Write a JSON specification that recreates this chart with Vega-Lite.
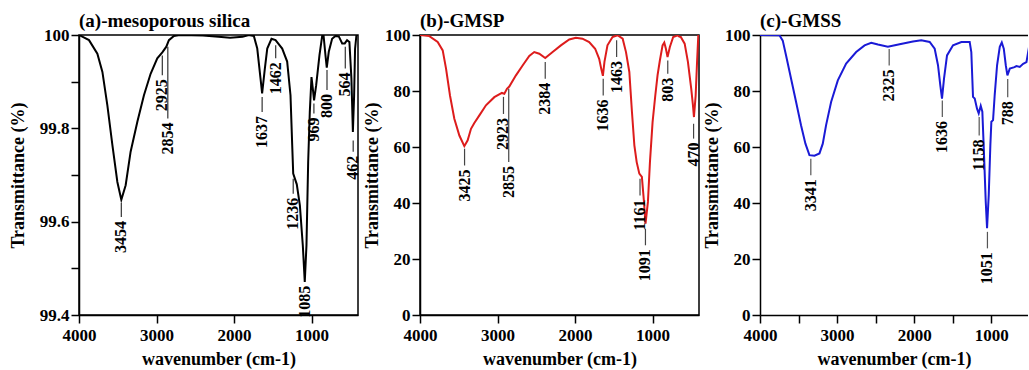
{
  "$schema": "https://vega.github.io/schema/vega-lite/v6.json",
  "padding": {"top": 10, "left": 8, "right": 0, "bottom": 0},
  "spacing": 0,
  "datasets": {
    "curveA": [
      {"wn": 4000, "t": 100}, {"wn": 3871, "t": 99.989}, {"wn": 3763, "t": 99.96}, {"wn": 3698, "t": 99.921},
      {"wn": 3634, "t": 99.849}, {"wn": 3569, "t": 99.764}, {"wn": 3505, "t": 99.685}, {"wn": 3454, "t": 99.647},
      {"wn": 3398, "t": 99.678}, {"wn": 3334, "t": 99.75}, {"wn": 3247, "t": 99.814}, {"wn": 3162, "t": 99.871},
      {"wn": 3076, "t": 99.917}, {"wn": 2990, "t": 99.95}, {"wn": 2925, "t": 99.963}, {"wn": 2873, "t": 99.975},
      {"wn": 2840, "t": 99.989}, {"wn": 2775, "t": 99.998}, {"wn": 2700, "t": 100}, {"wn": 2400, "t": 99.999},
      {"wn": 2200, "t": 99.996}, {"wn": 2050, "t": 99.994}, {"wn": 1890, "t": 99.996}, {"wn": 1808, "t": 100},
      {"wn": 1744, "t": 99.998}, {"wn": 1700, "t": 99.971}, {"wn": 1658, "t": 99.907}, {"wn": 1637, "t": 99.875},
      {"wn": 1602, "t": 99.928}, {"wn": 1571, "t": 99.971}, {"wn": 1516, "t": 99.992}, {"wn": 1464, "t": 99.989},
      {"wn": 1378, "t": 99.971}, {"wn": 1314, "t": 99.943}, {"wn": 1271, "t": 99.871}, {"wn": 1249, "t": 99.764},
      {"wn": 1236, "t": 99.703}, {"wn": 1190, "t": 99.68}, {"wn": 1150, "t": 99.635}, {"wn": 1112, "t": 99.549},
      {"wn": 1087, "t": 99.471}, {"wn": 1065, "t": 99.549}, {"wn": 1043, "t": 99.728}, {"wn": 1022, "t": 99.835},
      {"wn": 1000, "t": 99.91}, {"wn": 983, "t": 99.885}, {"wn": 967, "t": 99.86}, {"wn": 940, "t": 99.892},
      {"wn": 897, "t": 99.957}, {"wn": 862, "t": 99.998}, {"wn": 845, "t": 100}, {"wn": 820, "t": 99.957},
      {"wn": 803, "t": 99.93}, {"wn": 777, "t": 99.964}, {"wn": 734, "t": 99.992}, {"wn": 691, "t": 99.998},
      {"wn": 648, "t": 99.997}, {"wn": 604, "t": 99.982}, {"wn": 571, "t": 99.982}, {"wn": 541, "t": 99.989},
      {"wn": 511, "t": 99.985}, {"wn": 485, "t": 99.907}, {"wn": 466, "t": 99.792}, {"wn": 450, "t": 99.871},
      {"wn": 438, "t": 99.97}, {"wn": 420, "t": 100}, {"wn": 400, "t": 100}
    ],
    "annA": [
      {"wn": 3454, "label": "3454", "y1": 99.64, "y2": 99.61},
      {"wn": 2925, "label": "2925", "y1": 99.956, "y2": 99.914},
      {"wn": 2854, "label": "2854", "y1": 99.975, "y2": 99.821},
      {"wn": 1637, "label": "1637", "y1": 99.867, "y2": 99.835},
      {"wn": 1462, "label": "1462", "y1": 99.978, "y2": 99.95},
      {"wn": 1236, "label": "1236", "y1": 99.692, "y2": 99.66},
      {"wn": 1085, "label": "1085", "y1": 99.471, "y2": 99.471},
      {"wn": 969, "label": "969", "y1": 99.853, "y2": 99.832},
      {"wn": 800, "label": "800", "y1": 99.925, "y2": 99.882},
      {"wn": 564, "label": "564", "y1": 99.975, "y2": 99.928},
      {"wn": 462, "label": "462", "y1": 99.774, "y2": 99.75}
    ],
    "curveB": [
      {"wn": 4000, "t": 100}, {"wn": 3879, "t": 99.6}, {"wn": 3772, "t": 97.5}, {"wn": 3707, "t": 94.5},
      {"wn": 3664, "t": 88}, {"wn": 3613, "t": 78.4}, {"wn": 3557, "t": 70.1}, {"wn": 3492, "t": 64.1},
      {"wn": 3428, "t": 60.3}, {"wn": 3385, "t": 62.4}, {"wn": 3342, "t": 66.5}, {"wn": 3299, "t": 68.6},
      {"wn": 3234, "t": 71.3}, {"wn": 3149, "t": 74.9}, {"wn": 3041, "t": 77.8}, {"wn": 2943, "t": 79.3},
      {"wn": 2912, "t": 79.0}, {"wn": 2878, "t": 80.8}, {"wn": 2848, "t": 81.6}, {"wn": 2762, "t": 85.6},
      {"wn": 2676, "t": 89.1}, {"wn": 2590, "t": 92.5}, {"wn": 2526, "t": 93.9}, {"wn": 2461, "t": 93.3},
      {"wn": 2384, "t": 91.8}, {"wn": 2289, "t": 93.9}, {"wn": 2182, "t": 96.3}, {"wn": 2074, "t": 98.4},
      {"wn": 1989, "t": 99.0}, {"wn": 1904, "t": 98.7}, {"wn": 1817, "t": 97.5}, {"wn": 1740, "t": 95.1},
      {"wn": 1688, "t": 91.5}, {"wn": 1662, "t": 88}, {"wn": 1640, "t": 85.4}, {"wn": 1620, "t": 90.4},
      {"wn": 1581, "t": 96.3}, {"wn": 1516, "t": 99.3}, {"wn": 1451, "t": 99.9}, {"wn": 1385, "t": 98.7},
      {"wn": 1342, "t": 93.9}, {"wn": 1299, "t": 86.8}, {"wn": 1265, "t": 72.5}, {"wn": 1234, "t": 60.6},
      {"wn": 1204, "t": 54.6}, {"wn": 1170, "t": 50.5}, {"wn": 1137, "t": 49.3}, {"wn": 1110, "t": 40.4},
      {"wn": 1090, "t": 32.6}, {"wn": 1059, "t": 40.4}, {"wn": 1033, "t": 54.6}, {"wn": 999, "t": 68.9},
      {"wn": 964, "t": 78.4}, {"wn": 935, "t": 85.6}, {"wn": 905, "t": 90.9}, {"wn": 870, "t": 96.3},
      {"wn": 848, "t": 97.3}, {"wn": 827, "t": 95.1}, {"wn": 806, "t": 92.1}, {"wn": 776, "t": 95.7},
      {"wn": 733, "t": 99.3}, {"wn": 700, "t": 99.6}, {"wn": 678, "t": 99.9}, {"wn": 655, "t": 99.4},
      {"wn": 635, "t": 99.3}, {"wn": 585, "t": 96.9}, {"wn": 543, "t": 90.4}, {"wn": 500, "t": 80.8},
      {"wn": 478, "t": 74.9}, {"wn": 465, "t": 70.7}, {"wn": 443, "t": 78.4}, {"wn": 425, "t": 90.4},
      {"wn": 409, "t": 99.9}, {"wn": 400, "t": 100}
    ],
    "annB": [
      {"wn": 3425, "label": "3425", "y1": 59.4, "y2": 53.4},
      {"wn": 2923, "label": "2923", "y1": 77.9, "y2": 71.8},
      {"wn": 2855, "label": "2855", "y1": 80.8, "y2": 54.6},
      {"wn": 2384, "label": "2384", "y1": 90.4, "y2": 84.4},
      {"wn": 1636, "label": "1636", "y1": 84.4, "y2": 78.4},
      {"wn": 1463, "label": "1463", "y1": 98.1, "y2": 92.1},
      {"wn": 1161, "label": "1161", "y1": 48.7, "y2": 42.7},
      {"wn": 1091, "label": "1091", "y1": 30.8, "y2": 24.9},
      {"wn": 803, "label": "803", "y1": 90.9, "y2": 86.2},
      {"wn": 470, "label": "470", "y1": 68.3, "y2": 63.0}
    ],
    "curveC": [
      {"wn": 4000, "t": 100}, {"wn": 3748, "t": 99.9}, {"wn": 3705, "t": 98.0}, {"wn": 3662, "t": 92.7},
      {"wn": 3597, "t": 84.4}, {"wn": 3532, "t": 76.1}, {"wn": 3468, "t": 67.8}, {"wn": 3411, "t": 61.2},
      {"wn": 3359, "t": 57.1}, {"wn": 3294, "t": 56.9}, {"wn": 3229, "t": 57.7}, {"wn": 3186, "t": 61.2},
      {"wn": 3143, "t": 67.8}, {"wn": 3078, "t": 76.1}, {"wn": 2991, "t": 83.8}, {"wn": 2883, "t": 89.8},
      {"wn": 2753, "t": 93.9}, {"wn": 2644, "t": 96.3}, {"wn": 2558, "t": 97.2}, {"wn": 2471, "t": 96.6},
      {"wn": 2342, "t": 95.8}, {"wn": 2190, "t": 96.7}, {"wn": 2017, "t": 97.7}, {"wn": 1909, "t": 98.1},
      {"wn": 1800, "t": 97.5}, {"wn": 1735, "t": 95.1}, {"wn": 1692, "t": 89.2}, {"wn": 1662, "t": 82.0},
      {"wn": 1640, "t": 77.3}, {"wn": 1614, "t": 84.4}, {"wn": 1575, "t": 92.7}, {"wn": 1497, "t": 96.3},
      {"wn": 1389, "t": 97.5}, {"wn": 1281, "t": 97.5}, {"wn": 1260, "t": 93.9}, {"wn": 1238, "t": 77.9},
      {"wn": 1216, "t": 77.3}, {"wn": 1186, "t": 73.7}, {"wn": 1164, "t": 72.0}, {"wn": 1138, "t": 74.7},
      {"wn": 1117, "t": 72.6}, {"wn": 1095, "t": 57.1}, {"wn": 1073, "t": 40.5}, {"wn": 1056, "t": 31.0},
      {"wn": 1034, "t": 42.9}, {"wn": 1013, "t": 60.7}, {"wn": 1000, "t": 69.0}, {"wn": 978, "t": 69.6},
      {"wn": 957, "t": 78.5}, {"wn": 926, "t": 89.2}, {"wn": 891, "t": 95.8}, {"wn": 865, "t": 97.3},
      {"wn": 839, "t": 95.1}, {"wn": 813, "t": 89.2}, {"wn": 792, "t": 85.6}, {"wn": 761, "t": 88.0},
      {"wn": 700, "t": 88.5}, {"wn": 675, "t": 88.9}, {"wn": 632, "t": 88.6}, {"wn": 588, "t": 89.7},
      {"wn": 545, "t": 90.3}, {"wn": 523, "t": 93.9}, {"wn": 501, "t": 97.5}, {"wn": 480, "t": 100}
    ],
    "annC": [
      {"wn": 3341, "label": "3341", "y1": 55.8, "y2": 49.9},
      {"wn": 2325, "label": "2325", "y1": 95.0, "y2": 89.1},
      {"wn": 1636, "label": "1636", "y1": 76.6, "y2": 70.7},
      {"wn": 1158, "label": "1158", "y1": 70.7, "y2": 64.1},
      {"wn": 1051, "label": "1051", "y1": 29.7, "y2": 23.8},
      {"wn": 788, "label": "788", "y1": 84.3, "y2": 77.8}
    ]
  },
  "hconcat": [
    {
      "width": 279, "height": 280,
      "title": {"text": "(a)-mesoporous silica"},
      "layer": [
        {
          "data": {"name": "curveA"},
          "mark": {"type": "line", "color": "#000000", "strokeWidth": 2, "clip": true},
          "encoding": {
            "x": {"field": "wn", "type": "quantitative", "scale": {"domain": [4000, 400], "nice": false, "zero": false},
                  "title": "wavenumber (cm-1)",
                  "axis": {"values": [4000, 3500, 3000, 2500, 2000, 1500, 1000, 500], "format": "d", "labelExpr": "datum.value % 1000 === 0 ? datum.label : ''"}},
            "y": {"field": "t", "type": "quantitative", "scale": {"domain": [99.4, 100], "nice": false, "zero": false},
                  "title": "Transmittance (%)",
                  "axis": {"values": [99.4, 99.5, 99.6, 99.7, 99.8, 99.9, 100], "format": ".1~f", "labelExpr": "round(datum.value * 10) % 2 === 0 ? datum.label : ''", "titlePadding": 12}}
          }
        },
        {
          "data": {"name": "annA"},
          "mark": {"type": "rule", "color": "#333333", "strokeWidth": 1.2},
          "encoding": {
            "x": {"field": "wn", "type": "quantitative", "scale": {"domain": [4000, 400], "nice": false, "zero": false}, "title": "wavenumber (cm-1)"},
            "y": {"field": "y1", "type": "quantitative", "scale": {"domain": [99.4, 100], "nice": false, "zero": false}, "title": "Transmittance (%)"},
            "y2": {"field": "y2"}
          }
        },
        {
          "data": {"name": "annA"},
          "mark": {"type": "text", "angle": 270, "align": "right", "baseline": "middle", "dx": -4, "fontSize": 16, "fontWeight": "bold", "font": "Liberation Serif", "color": "#000000"},
          "encoding": {
            "x": {"field": "wn", "type": "quantitative", "scale": {"domain": [4000, 400], "nice": false, "zero": false}, "title": "wavenumber (cm-1)"},
            "y": {"field": "y2", "type": "quantitative", "scale": {"domain": [99.4, 100], "nice": false, "zero": false}, "title": "Transmittance (%)"},
            "text": {"field": "label"}
          }
        }
      ]
    },
    {
      "width": 279, "height": 280,
      "title": {"text": "(b)-GMSP"},
      "layer": [
        {
          "data": {"name": "curveB"},
          "mark": {"type": "line", "color": "#dd1c1c", "strokeWidth": 2, "clip": true},
          "encoding": {
            "x": {"field": "wn", "type": "quantitative", "scale": {"domain": [4000, 400], "nice": false, "zero": false},
                  "title": "wavenumber (cm-1)",
                  "axis": {"values": [4000, 3500, 3000, 2500, 2000, 1500, 1000, 500], "format": "d", "labelExpr": "datum.value % 1000 === 0 ? datum.label : ''"}},
            "y": {"field": "t", "type": "quantitative", "scale": {"domain": [0, 100], "nice": false},
                  "title": "Transmittance (%)",
                  "axis": {"values": [0, 10, 20, 30, 40, 50, 60, 70, 80, 90, 100], "format": "d", "labelExpr": "datum.value % 20 === 0 ? datum.label : ''", "titlePadding": 3.5}}
          }
        },
        {
          "data": {"name": "annB"},
          "mark": {"type": "rule", "color": "#444444", "strokeWidth": 1.2},
          "encoding": {
            "x": {"field": "wn", "type": "quantitative", "scale": {"domain": [4000, 400], "nice": false, "zero": false}, "title": "wavenumber (cm-1)"},
            "y": {"field": "y1", "type": "quantitative", "scale": {"domain": [0, 100], "nice": false}, "title": "Transmittance (%)"},
            "y2": {"field": "y2"}
          }
        },
        {
          "data": {"name": "annB"},
          "mark": {"type": "text", "angle": 270, "align": "right", "baseline": "middle", "dx": -4, "fontSize": 16, "fontWeight": "bold", "font": "Liberation Serif", "color": "#000000"},
          "encoding": {
            "x": {"field": "wn", "type": "quantitative", "scale": {"domain": [4000, 400], "nice": false, "zero": false}, "title": "wavenumber (cm-1)"},
            "y": {"field": "y2", "type": "quantitative", "scale": {"domain": [0, 100], "nice": false}, "title": "Transmittance (%)"},
            "text": {"field": "label"}
          }
        }
      ]
    },
    {
      "width": 268, "height": 280,
      "title": {"text": "(c)-GMSS"},
      "view": {"stroke": null},
      "resolve": {"axis": {"x": "independent"}},
      "layer": [
        {
          "layer": [
            {
              "data": {"name": "curveC"},
              "mark": {"type": "line", "color": "#1a1ad6", "strokeWidth": 2, "clip": true},
              "encoding": {
                "x": {"field": "wn", "type": "quantitative", "scale": {"domain": [4000, 525], "nice": false, "zero": false},
                      "title": "wavenumber (cm-1)",
                      "axis": {"orient": "bottom", "values": [4000, 3500, 3000, 2500, 2000, 1500, 1000], "format": "d", "labelExpr": "datum.value % 1000 === 0 ? datum.label : ''"}},
                "y": {"field": "t", "type": "quantitative", "scale": {"domain": [0, 100], "nice": false},
                      "title": "Transmittance (%)",
                      "axis": {"values": [0, 10, 20, 30, 40, 50, 60, 70, 80, 90, 100], "format": "d", "labelExpr": "datum.value % 20 === 0 ? datum.label : ''", "titlePadding": 2.8}}
              }
            },
            {
              "data": {"name": "annC"},
              "mark": {"type": "rule", "color": "#555555", "strokeWidth": 1.2},
              "encoding": {
                "x": {"field": "wn", "type": "quantitative", "scale": {"domain": [4000, 525], "nice": false, "zero": false}, "title": "wavenumber (cm-1)"},
                "y": {"field": "y1", "type": "quantitative", "scale": {"domain": [0, 100], "nice": false}, "title": "Transmittance (%)"},
                "y2": {"field": "y2"}
              }
            }
          ]
        },
        {
          "data": {"name": "annC"},
          "mark": {"type": "text", "angle": 270, "align": "right", "baseline": "middle", "dx": -4, "fontSize": 16, "fontWeight": "bold", "font": "Liberation Serif", "color": "#000000"},
          "encoding": {
            "x": {"field": "wn", "type": "quantitative", "scale": {"domain": [4000, 525], "nice": false, "zero": false},
                  "axis": {"orient": "top", "labels": false, "ticks": false, "title": null, "grid": false, "domain": true}},
            "y": {"field": "y2", "type": "quantitative", "scale": {"domain": [0, 100], "nice": false}, "title": "Transmittance (%)"},
            "text": {"field": "label"}
          }
        }
      ]
    }
  ],
  "config": {
    "font": "Liberation Serif",
    "view": {"stroke": "#000000", "strokeWidth": 1.5},
    "axis": {
      "labelFont": "Liberation Serif", "labelFontSize": 17, "labelFontWeight": "bold", "labelColor": "#000000",
      "titleFont": "Liberation Serif", "titleFontSize": 18, "titleFontWeight": "bold", "titleColor": "#000000",
      "tickColor": "#000000", "tickSize": 8, "tickWidth": 1.5, "domainColor": "#000000", "domainWidth": 1.5,
      "grid": false, "labelPadding": 2, "titlePadding": 4, "labelFlush": false, "labelOverlap": false
    },
    "axisX": {"labelPadding": 4, "titlePadding": 7},
    "title": {"font": "Liberation Serif", "fontSize": 19, "fontWeight": "bold", "color": "#000000", "anchor": "start", "frame": "group", "offset": -4.5}
  }
}
